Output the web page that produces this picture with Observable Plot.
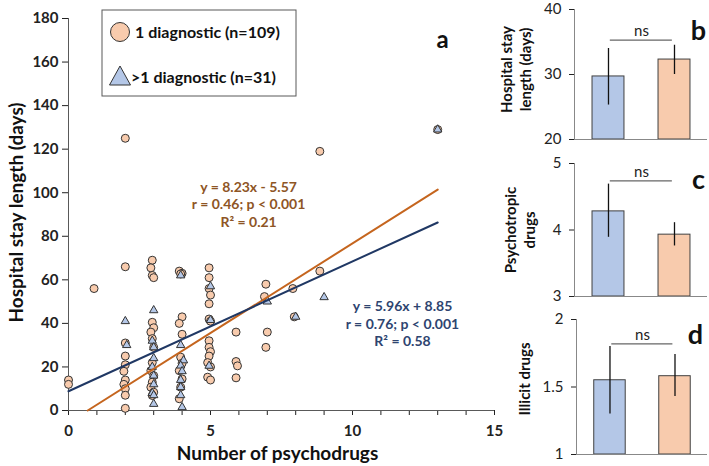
<!DOCTYPE html>
<html>
<head>
<meta charset="utf-8">
<script src="https://cdn.jsdelivr.net/npm/d3@7"></script>
<script src="https://cdn.jsdelivr.net/npm/@observablehq/plot@0.6"></script>
<style>
  body { margin: 0; background: #fff; }
  #root { position: relative; width: 709px; height: 466px; overflow: hidden; font-family: Lato, "Open Sans", sans-serif; }
  #root > svg, #root > div { position: absolute; }
</style>
</head>
<body>
<div id="root"></div>
<script>
// ---------- DATA ----------
// Panel a: scatter, [number of psychodrugs, hospital stay length (days)]
const oneDiagnostic = [
  [0,14],[0,12],[0.9,56],
  [2,125],[2,66],[2,31],[2,25],[2,21],[1.95,18],[2,14],[1.95,12],[2,10],[2,7],[2,1],
  [2.95,69],[2.9,65.5],[2.95,62],[3.0,61],[2.95,40.5],[3.0,38],[2.9,36],[2.95,33],[3.0,29],
  [2.95,22],[2.9,18.3],[3.0,16],[2.95,13],[2.9,10.7],[3.0,8.4],[2.95,6.9],
  [3.9,64],[4.0,63],[3.95,62.7],[4.0,43],[3.9,40],[4.0,35],[3.95,24.5],[4.0,21.7],[3.9,18.3],
  [4.0,14.5],[3.95,10.7],[3.9,5.4],
  [4.95,65.5],[4.95,61],[4.95,56],[5.0,53],[4.95,49],[4.95,42],[5.0,41],[4.95,32],[4.95,29],
  [5.0,27],[4.95,25],[4.9,22],[5.0,20],[4.9,15.3],[5.0,14],
  [5.9,36],[5.9,22.5],[5.95,20.5],[5.9,15],
  [6.95,58],[6.9,52.3],[7.0,36],[6.95,29],
  [7.9,56],[7.95,43],
  [8.85,64],[8.85,119],
  [13,129]
];
const multiDiagnostic = [
  [2,41],[2.05,30],
  [3,46],[2.95,32],[3.0,29],[3.0,24],[2.95,20],[3.0,16],[3.0,12],[2.95,8],[3.0,7],[3.0,3],
  [3.95,62],[3.95,30],[4.05,23],[3.95,20.6],[4.0,18],[3.95,14],[3.95,10.7],[3.95,7],[4.0,1.5],
  [5.0,57],[5.0,41.5],[4.95,20.5],
  [7.0,50],[8.0,43],[9.0,52],[13,129]
];
// regression fits [slope, intercept], fitted over 0..13
const fitOne = [8.23, -5.57];
const fitMulti = [5.96, 8.85];
const fitXMax = 13;
const eqOne = "y = 8.23x - 5.57\nr = 0.46; p < 0.001\nR² = 0.21";
const eqMulti = "y = 5.96x + 8.85\nr = 0.76; p < 0.001\nR² = 0.58";
const legendLabels = ["1 diagnostic (n=109)", ">1 diagnostic (n=31)"];

// Panels b-d: groups, means and error bar limits
const groups = [">1 diagnostic", "1 diagnostic"];
const stayMean = [29.7, 32.3], stayLow = [25.3, 30.0], stayHigh = [34.0, 34.5];
const psychoMean = [4.28, 3.93], psychoLow = [3.89, 3.76], psychoHigh = [4.69, 4.11];
const illicitMean = [1.55, 1.58], illicitLow = [1.30, 1.43], illicitHigh = [1.80, 1.74];
const stayTicks = [20, 30, 40], psychoTicks = [3, 4, 5], illicitTicks = [1, 1.5, 2];
const nsLevels = [35.3, 4.74, 1.82];

// ---------- STYLE ----------
const FONT = "Lato, 'Open Sans', sans-serif";
const PEACH = "#F8CBAD", LIGHTBLUE = "#B4C7E7";
const ORANGE_LINE = "#C5651E", NAVY_LINE = "#203864";
const ORANGE_TEXT = "#8E5525", NAVY_TEXT = "#2E4470";
const groupFill = [LIGHTBLUE, PEACH];

const root = document.getElementById("root");

// ---------- PANEL A ----------
const lineOne = [(-fitOne[1]) / fitOne[0], fitXMax].map(x => ({x, y: fitOne[0] * x + fitOne[1]}));
const lineMulti = [0, fitXMax].map(x => ({x, y: fitMulti[0] * x + fitMulti[1]}));

const main = Plot.plot({
  width: 510, height: 466,
  marginLeft: 68, marginRight: 16, marginTop: 18, marginBottom: 56,
  style: {fontFamily: FONT, fontSize: "15px", fontWeight: "bold", color: "#222", background: "transparent", overflow: "visible"},
  x: {domain: [0, 15], ticks: 15, tickSize: 5, tickPadding: 10, tickFormat: d => d % 5 === 0 ? String(d) : "", label: null},
  y: {domain: [0, 180], ticks: 9, tickSize: 6, tickPadding: 4, label: null},
  marks: [
    Plot.ruleX([0], {stroke: "#595959"}),
    Plot.ruleY([0], {stroke: "#595959"}),
    Plot.dot(oneDiagnostic, {x: d => d[0], y: d => d[1], r: 4, fill: PEACH, stroke: "#333", strokeWidth: 1}),
    Plot.dot(multiDiagnostic, {x: d => d[0], y: d => d[1], r: 3.1, symbol: "triangle", fill: LIGHTBLUE, stroke: "#333", strokeWidth: 1}),
    Plot.line(lineOne, {x: "x", y: "y", stroke: ORANGE_LINE, strokeWidth: 2}),
    Plot.line(lineMulti, {x: "x", y: "y", stroke: NAVY_LINE, strokeWidth: 2}),
    Plot.text([eqOne], {x: () => 6.34, y: () => 95, fill: ORANGE_TEXT, fontSize: 14, fontWeight: "bold", lineHeight: 1.25}),
    Plot.text([eqMulti], {x: () => 11.76, y: () => 40, fill: NAVY_TEXT, fontSize: 14, fontWeight: "bold", lineHeight: 1.25}),
    Plot.text(["a"], {frameAnchor: "top-right", dx: -52, dy: 22, textAnchor: "middle", lineAnchor: "middle", fontSize: 24, fontWeight: "bold", fill: "#111"}),
    Plot.text(["Hospital stay length (days)"], {frameAnchor: "left", rotate: -90, dx: -52, dy: -2, textAnchor: "middle", lineAnchor: "middle", fontSize: 19, fontWeight: "bold", fill: "#111"}),
    Plot.text(["Number of psychodrugs"], {frameAnchor: "bottom", dx: -4, dy: 43, textAnchor: "middle", lineAnchor: "middle", fontSize: 19, fontWeight: "bold", fill: "#111"})
  ]
});
main.style.left = "0px"; main.style.top = "0px";
root.appendChild(main);

// legend
const legend = document.createElementNS("http://www.w3.org/2000/svg", "svg");
legend.setAttribute("width", 196); legend.setAttribute("height", 88);
legend.style.left = "101px"; legend.style.top = "9px";
legend.innerHTML = `
  <rect x="1" y="1" width="194" height="86" fill="#fff" stroke="#595959" stroke-width="1"/>
  <circle cx="19" cy="23" r="9.5" fill="${PEACH}" stroke="#333" stroke-width="1"/>
  <path d="M19,57 L29.5,76 L8.5,76 Z" fill="${LIGHTBLUE}" stroke="#333" stroke-width="1"/>
  <text x="34" y="23" dy="0.35em" font-family="${FONT}" font-size="16" font-weight="bold" fill="#111">${legendLabels[0]}</text>
  <text x="30" y="68" dy="0.35em" font-family="${FONT}" font-size="16" font-weight="bold" fill="#111">${legendLabels[1].replace(">", "&gt;")}</text>`;
root.appendChild(legend);

// ---------- PANELS B-D ----------
function barPanel({top, height, mt, mb, ml, means, lows, highs, ns, ticks, title, titleDx, titleDy, letter, letterDx, letterDy}) {
  const rows = groups.map((g, i) => ({g, i: i + 1, mean: means[i], lo: lows[i], hi: highs[i], fill: groupFill[i]}));
  const y0 = ticks[0];
  const xDomain = [0.485, 2.5];
  const p = Plot.plot({
    width: 229, height, marginLeft: ml, marginRight: 2, marginTop: mt, marginBottom: mb,
    style: {fontFamily: FONT, fontSize: "15px", color: "#222", background: "transparent", overflow: "visible"},
    x: {domain: xDomain, axis: null},
    y: {domain: [ticks[0], ticks[ticks.length - 1]], ticks, tickSize: 5, tickPadding: 8, tickFormat: d => String(d), label: null},
    marks: [
      Plot.rectY(rows, {x1: d => d.i - 0.242, x2: d => d.i + 0.242, y1: () => y0, y2: "mean", fill: "fill", stroke: "#404040", strokeWidth: 1}),
      Plot.ruleX(rows, {x: "i", y1: "lo", y2: "hi", stroke: "#111", strokeWidth: 1.3}),
      Plot.link([ns], {x1: () => 1.02, x2: () => 1.96, y1: d => d, y2: d => d, stroke: "#666", strokeWidth: 1.2}),
      Plot.text(["ns"], {x: () => 1.5, y: () => ns, dy: -9, fontSize: 15, fill: "#222"}),
      Plot.ruleY([y0], {stroke: "#888"}),
      Plot.ruleX([xDomain[0]], {stroke: "#888"}),
      Plot.text([letter], {frameAnchor: "top-right", dx: letterDx, dy: letterDy, textAnchor: "middle", lineAnchor: "middle", fontSize: 27, fontWeight: "bold", fill: "#111"}),
      Plot.text([title], {frameAnchor: "left", rotate: -90, dx: titleDx, dy: titleDy, textAnchor: "middle", lineAnchor: "middle", fontSize: 15, fontWeight: "bold", lineHeight: 1.3, fill: "#111"})
    ]
  });
  p.style.left = "480px"; p.style.top = top + "px";
  root.appendChild(p);
}

barPanel({top: 0, height: 151, mt: 9, mb: 12, ml: 94, means: stayMean, lows: stayLow, highs: stayHigh, ns: nsLevels[0],
  ticks: stayTicks, title: "Hospital stay\nlength (days)", titleDx: -59, titleDy: -5, letter: "b", letterDx: -9, letterDy: 22});
barPanel({top: 150, height: 152, mt: 13, mb: 6, ml: 94, means: psychoMean, lows: psychoLow, highs: psychoHigh, ns: nsLevels[1],
  ticks: psychoTicks, title: "Psychotropic\ndrugs", titleDx: -55, titleDy: 0, letter: "c", letterDx: -9, letterDy: 17});
barPanel({top: 302, height: 164, mt: 17, mb: 12, ml: 96, means: illicitMean, lows: illicitLow, highs: illicitHigh, ns: nsLevels[2],
  ticks: illicitTicks, title: "Illicit drugs", titleDx: -53, titleDy: -8, letter: "d", letterDx: -12, letterDy: 16});
</script>
</body>
</html>
